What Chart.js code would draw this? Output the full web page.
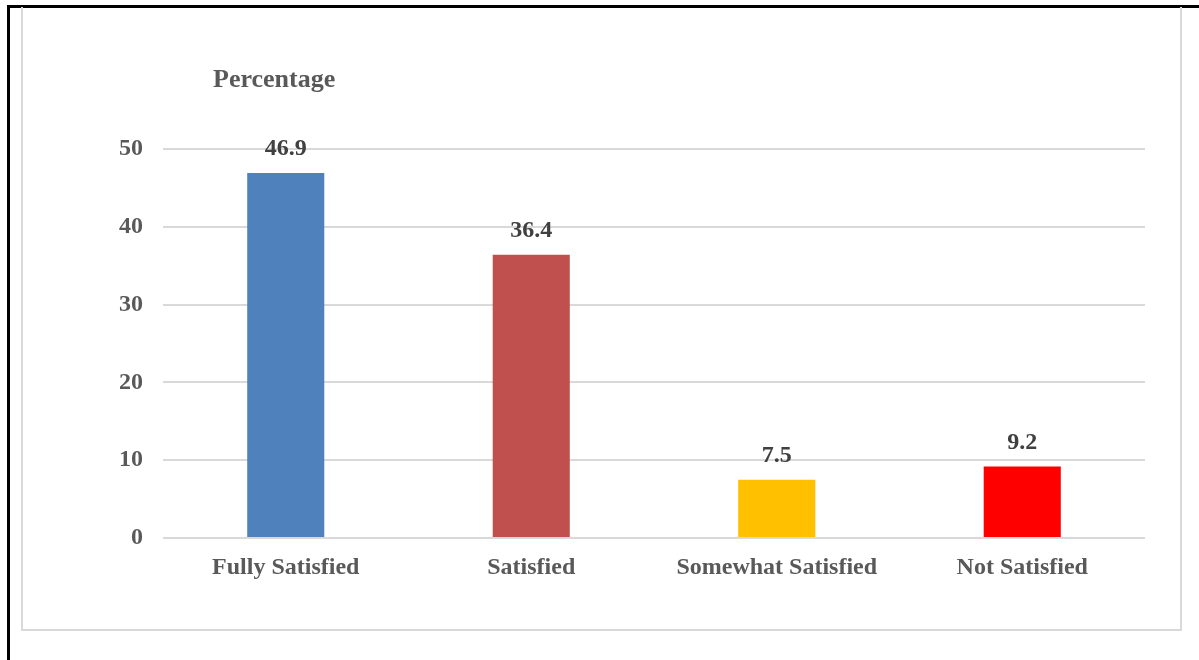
<!DOCTYPE html>
<html>
<head>
<meta charset="utf-8">
<script src="https://cdn.jsdelivr.net/npm/chart.js@4.4.1/dist/chart.umd.min.js"></script>
<style>
    body { margin: 0; background: #fff; }
    #frame {
        position: absolute; left: 7px; top: 5px; width: 1200px; height: 660px;
        border-left: 3px solid #000; border-top: 3px solid #000;
    }
    #box {
        position: absolute; left: 21px; top: 7px; width: 1157px; height: 622px;
        border: 2px solid #d9d9d9; border-top: none;
    }
    #wrap { position: absolute; left: 0; top: 0; width: 1199px; height: 660px; }
</style>
</head>
<body>
<div id="frame"></div>
<div id="box"></div>
<div id="wrap"><canvas id="chart"></canvas></div>
<script>
const categories = ["Fully Satisfied", "Satisfied", "Somewhat Satisfied", "Not Satisfied"];
const percentages = [46.9, 36.4, 7.5, 9.2];
const yTicks = [0, 10, 20, 30, 40, 50];
const barColors = ["#4F81BD", "#C0504D", "#FFC000", "#FF0000"];

const serif = "'Liberation Serif', 'Times New Roman', serif";

// value labels above bars + the "Percentage" caption
const labelPlugin = {
    id: "barLabels",
    afterDatasetsDraw(chart) {
        const ctx = chart.ctx;
        ctx.save();
        ctx.font = "bold 24px " + serif;
        ctx.fillStyle = "#404040";
        ctx.textAlign = "center";
        ctx.textBaseline = "middle";
        chart.getDatasetMeta(0).data.forEach((bar, i) => {
            ctx.fillText(percentages[i].toFixed(1), bar.x, bar.y - 24);
        });
        ctx.font = "bold 26px " + serif;
        ctx.fillStyle = "#595959";
        ctx.textAlign = "left";
        ctx.textBaseline = "alphabetic";
        ctx.fillText("Percentage", 213, 87);
        ctx.restore();
    },
};

new Chart(document.getElementById("chart"), {
    type: "bar",
    data: {
        labels: categories,
        datasets: [
            {
                data: percentages,
                backgroundColor: barColors,
                barPercentage: 1,
                categoryPercentage: 0.314,
            },
        ],
    },
    options: {
        responsive: true,
        maintainAspectRatio: false,
        animation: false,
        layout: { padding: { left: 100, right: 54, top: 149, bottom: 62 } },
        plugins: {
            legend: { display: false },
            tooltip: { enabled: false },
        },
        scales: {
            x: {
                grid: { display: false },
                border: { display: false },
                ticks: {
                    color: "#595959",
                    padding: 7,
                    font: { family: serif, size: 24, weight: "bold" },
                },
                afterFit: (scale) => { scale.height = 60; },
            },
            y: {
                min: 0,
                max: 50,
                afterBuildTicks: (scale) => {
                    scale.ticks = yTicks.map((v) => ({ value: v }));
                },
                grid: { color: "#d9d9d9", lineWidth: 2, drawTicks: false },
                border: { display: false },
                ticks: {
                    color: "#595959",
                    padding: 20,
                    font: { family: serif, size: 24, weight: "bold" },
                },
                afterFit: (scale) => { scale.width = 63; },
            },
        },
    },
    plugins: [labelPlugin],
});
</script>
</body>
</html>
